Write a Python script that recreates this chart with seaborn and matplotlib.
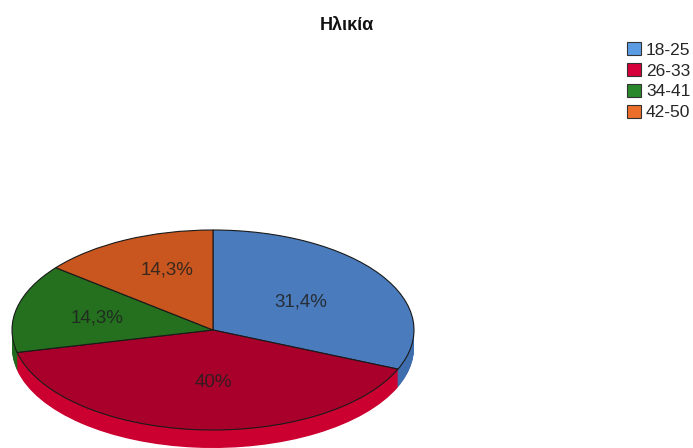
import matplotlib
matplotlib.use("Agg")
import matplotlib.pyplot as plt
from matplotlib.patches import Patch
import numpy as np
import seaborn as sns

# Age groups and their share of respondents (%)
categories = ["18-25", "26-33", "34-41", "42-50"]
shares = [31.4, 40.0, 14.3, 14.3]
title = "Ηλικία"

top_colors = ["#4a7bbd", "#a8002a", "#24701f", "#c8561e"]
side_colors = ["#3f6eae", "#cc0030", "#1f6a1c", "#b04a18"]
legend_colors = ["#5b9be3", "#d6003a", "#2a882a", "#ec6e2a"]

sns.set_theme(style="white")
plt.rcParams["font.family"] = ["Liberation Sans", "DejaVu Sans"]

W, H = 693, 448
fig = plt.figure(figsize=(W / 100, H / 100), dpi=100)
ax = fig.add_axes([0, 0, 1, 1])

# elliptical pie: 1 data unit = 201 px horizontally, 100 px vertically
cx_px, cy_px, rx_px, ry_px = 213, 330, 201, 100
depth = 0.18
steps = 24


def pct_label(p):
    s = f"{p:.1f}"
    if s.endswith(".0"):
        s = s[:-2]
    return s.replace(".", ",") + "%"


# side band of the 3D pie: stacked copies shifted downward
for k in range(steps, 0, -1):
    off = -depth * k / steps
    ax.pie(shares, colors=side_colors, startangle=90, counterclock=False,
           center=(0, off), radius=1, wedgeprops=dict(linewidth=0))

# top face
wedges, _, autotexts = ax.pie(
    shares, colors=top_colors, startangle=90, counterclock=False,
    center=(0, 0), radius=1, autopct=pct_label, pctdistance=0.55,
    wedgeprops=dict(edgecolor="#1a1a1a", linewidth=0.8),
    textprops=dict(fontsize=13.5, color="#202020"))

# placement of the percentage labels (radial distance, angular nudge)
label_dist = [0.52, 0.53, 0.59, 0.64]
label_turn = [-1, 5, 1.5, -5]
angle = 90.0
for t, v, d, s in zip(autotexts, shares, label_dist, label_turn):
    mid = np.deg2rad(angle - v * 3.6 / 2 + s)
    t.set_position((d * np.cos(mid), d * np.sin(mid)))
    t.set_alpha(0.85)
    angle -= v * 3.6

ax.set_aspect("auto")
ax.set_xlim(-cx_px / rx_px, (W - cx_px) / rx_px)
ax.set_ylim(-(H - cy_px) / ry_px, cy_px / ry_px)
ax.axis("off")

fig.text(0.501, 1 - 25 / H, title, ha="center", va="center",
         fontsize=13, fontweight="bold", color="#111111")

handles = [Patch(facecolor=c, edgecolor="#333333", linewidth=0.8) for c in legend_colors]
fig.legend(handles, categories, loc="upper left",
           bbox_to_anchor=(627 / W, 1 - 42 / H), frameon=False,
           fontsize=12.5, handlelength=0.8, handleheight=0.8,
           handletextpad=0.29, labelspacing=0.3, borderpad=0,
           borderaxespad=0)

fig.savefig("out.png", dpi=100, facecolor="white")
